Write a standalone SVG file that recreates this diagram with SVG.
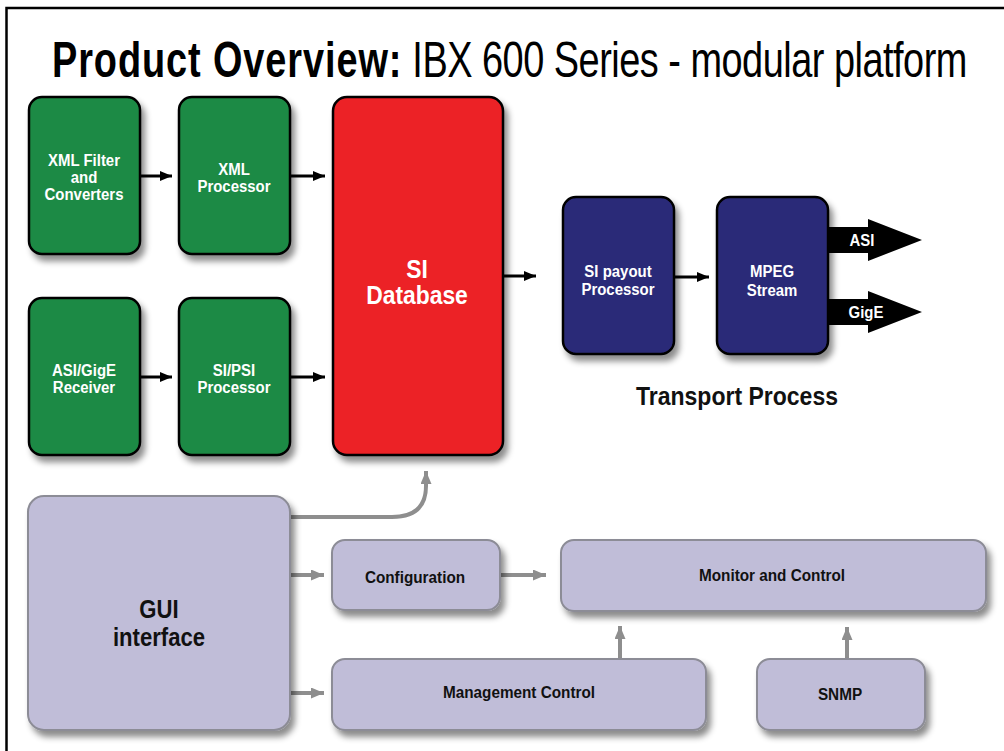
<svg xmlns="http://www.w3.org/2000/svg" width="1004" height="751" viewBox="0 0 1004 751">
<style>
text{font-family:"Liberation Sans",Arial,sans-serif;font-weight:bold;text-anchor:middle}
.w{fill:#fff;font-size:17px}
.k{fill:#111;font-size:17px}
.big{font-size:26px}
.g{fill:#1b8a45;stroke:#000;stroke-width:2.5}
.r{fill:#ec2227;stroke:#000;stroke-width:2.5}
.b{fill:#2c2b78;stroke:#000;stroke-width:2.5}
.l{fill:#c0bdd8;stroke:#8c8c96;stroke-width:2}
.ca{fill:none;stroke:#000;stroke-width:3}
.cg{fill:none;stroke:#8e8e8e;stroke-width:4}
</style>
<defs>
<filter id="sh" x="-20%" y="-20%" width="150%" height="150%">
<feDropShadow dx="4" dy="6" stdDeviation="3" flood-color="#000" flood-opacity="0.45"/>
</filter>
<marker id="ma" markerUnits="userSpaceOnUse" markerWidth="12" markerHeight="10" refX="12" refY="5" orient="auto">
<path d="M0,0 L12,5 L0,10 z" fill="#000"/>
</marker>
<marker id="mg" markerUnits="userSpaceOnUse" markerWidth="13" markerHeight="11" refX="13" refY="5.5" orient="auto">
<path d="M0,0 L13,5.5 L0,11 z" fill="#8e8e8e"/>
</marker>
</defs>
<rect x="0" y="0" width="1004" height="751" fill="#fff"/>
<path d="M6.5,751 V8 H1004" fill="none" stroke="#000" stroke-width="2.5"/>
<g id="title" transform="translate(52 0) scale(0.758 1)">
<text x="0" y="77" style="text-anchor:start;font-size:50px;fill:#000"><tspan style="letter-spacing:1.2px">Product Overview:</tspan><tspan style="font-weight:normal;letter-spacing:-0.65px"> IBX 600 Series - modular platform</tspan></text>
</g>
<g id="connectors">
<path class="ca" d="M140,176 H172" marker-end="url(#ma)"/>
<path class="ca" d="M290,176 H325" marker-end="url(#ma)"/>
<path class="ca" d="M140,377 H172" marker-end="url(#ma)"/>
<path class="ca" d="M290,377 H325" marker-end="url(#ma)"/>
<path class="ca" d="M503,276 H536" marker-end="url(#ma)"/>
<path class="ca" d="M674,277 H709" marker-end="url(#ma)"/>
<path class="cg" d="M290,517 H392 Q426,517 426,486 V471" marker-end="url(#mg)"/>
<path class="cg" d="M290,575 H324" marker-end="url(#mg)"/>
<path class="cg" d="M501,575 H546" marker-end="url(#mg)"/>
<path class="cg" d="M290,693 H324" marker-end="url(#mg)"/>
<path class="cg" d="M620,658 V626" marker-end="url(#mg)"/>
<path class="cg" d="M847,659 V627" marker-end="url(#mg)"/>
</g>
<g id="xmlfilter">
<rect class="g" x="29" y="97" width="111" height="157" rx="13" filter="url(#sh)"/>
<g transform="translate(84 0) scale(0.88 1)">
<text class="w" x="0" y="166">XML Filter</text>
<text class="w" x="0" y="183">and</text>
<text class="w" x="0" y="200">Converters</text>
</g>
</g>
<g id="xmlproc">
<rect class="g" x="179" y="97" width="111" height="157" rx="13" filter="url(#sh)"/>
<g transform="translate(234 0) scale(0.88 1)">
<text class="w" x="0" y="175">XML</text>
<text class="w" x="0" y="192">Processor</text>
</g>
</g>
<g id="asireceiver">
<rect class="g" x="29" y="298" width="111" height="157" rx="13" filter="url(#sh)"/>
<g transform="translate(84 0) scale(0.88 1)">
<text class="w" x="0" y="376">ASI/GigE</text>
<text class="w" x="0" y="393">Receiver</text>
</g>
</g>
<g id="sipsi">
<rect class="g" x="179" y="298" width="111" height="157" rx="13" filter="url(#sh)"/>
<g transform="translate(234 0) scale(0.88 1)">
<text class="w" x="0" y="376">SI/PSI</text>
<text class="w" x="0" y="393">Processor</text>
</g>
</g>
<g id="sidb">
<rect class="r" x="333" y="97" width="170" height="358" rx="14" filter="url(#sh)"/>
<g transform="translate(417 0) scale(0.88 1)">
<text class="w big" x="0" y="278">SI</text>
<text class="w big" x="0" y="304">Database</text>
</g>
</g>
<g id="sipayout">
<rect class="b" x="563" y="197" width="111" height="157" rx="13" filter="url(#sh)"/>
<g transform="translate(618 0) scale(0.88 1)">
<text class="w" x="0" y="277">SI payout</text>
<text class="w" x="0" y="295">Processor</text>
</g>
</g>
<g id="mpeg">
<rect class="b" x="717" y="197" width="111" height="157" rx="13" filter="url(#sh)"/>
<g transform="translate(772 0) scale(0.88 1)">
<text class="w" x="0" y="277">MPEG</text>
<text class="w" x="0" y="296">Stream</text>
</g>
</g>
<g id="asi">
<polygon points="829,227 868,227 868,219 922,240 868,261 868,253 829,253" fill="#000"/>
<g transform="translate(862 0) scale(0.88 1)"><text class="w" x="0" y="246">ASI</text></g>
</g>
<g id="gige">
<polygon points="829,299 868,299 868,291 922,312 868,333 868,325 829,325" fill="#000"/>
<g transform="translate(866 0) scale(0.88 1)"><text class="w" x="0" y="318">GigE</text></g>
</g>
<g id="transport">
<text x="737" y="405" style="fill:#111;font-size:26px" textLength="202" lengthAdjust="spacingAndGlyphs">Transport Process</text>
</g>
<g id="gui">
<rect class="l" x="28" y="496" width="262" height="234" rx="16" filter="url(#sh)"/>
<g transform="translate(159 0) scale(0.85 1)">
<text class="k big" x="0" y="618">GUI</text>
<text class="k big" x="0" y="646">interface</text>
</g>
</g>
<g id="config">
<rect class="l" x="332" y="540" width="168" height="70" rx="13" filter="url(#sh)"/>
<g transform="translate(415 0) scale(0.9 1)"><text class="k" x="0" y="583">Configuration</text></g>
</g>
<g id="monitor">
<rect class="l" x="561" y="540" width="425" height="71" rx="13" filter="url(#sh)"/>
<g transform="translate(772 0) scale(0.9 1)"><text class="k" x="0" y="581">Monitor and Control</text></g>
</g>
<g id="mgmt">
<rect class="l" x="332" y="659" width="374" height="71" rx="13" filter="url(#sh)"/>
<g transform="translate(519 0) scale(0.9 1)"><text class="k" x="0" y="698">Management Control</text></g>
</g>
<g id="snmp">
<rect class="l" x="757" y="659" width="168" height="71" rx="13" filter="url(#sh)"/>
<g transform="translate(840 0) scale(0.9 1)"><text class="k" x="0" y="700">SNMP</text></g>
</g>
</svg>
